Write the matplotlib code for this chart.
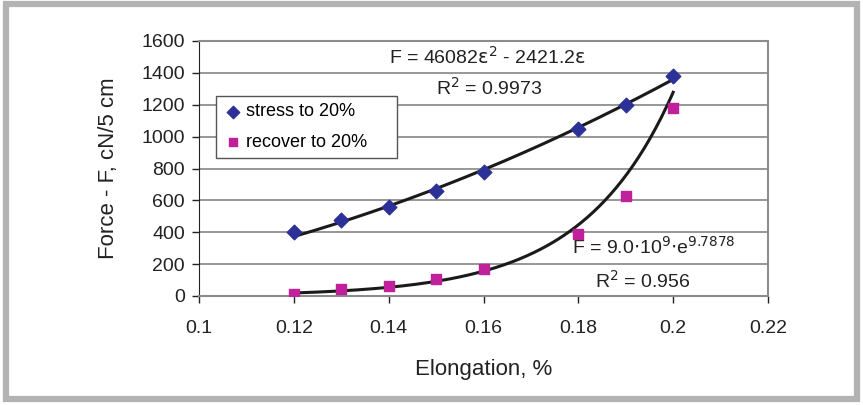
import numpy as np
import matplotlib.pyplot as plt
from matplotlib.patches import Rectangle

plt.rcParams['font.family'] = ['Liberation Sans', 'DejaVu Sans']

# datos
elongacion = [0.12, 0.13, 0.14, 0.15, 0.16, 0.18, 0.19, 0.20]
stress = [401, 477, 558, 660, 775, 1045, 1198, 1380]
recover = [10, 42, 60, 108, 172, 387, 625, 1180]

# coeficientes de las lineas de tendencia
poli_a, poli_b = 46082.0, -2421.2      # F = a*e^2 + b*e
exp_a, exp_k = 0.0345, 52.6            # curva exponencial dibujada

fig = plt.figure(figsize=(8.63, 4.05), dpi=100)
ax = fig.add_axes([199 / 863, 1 - 296 / 405, 569 / 863, 255 / 405])

# marco gris alrededor de toda la figura
fig.patches.append(Rectangle((6 / 863, 6 / 405), 851 / 863, 395 / 405,
                             transform=fig.transFigure, fill=False,
                             edgecolor='#b3b3b3', linewidth=4.5))

ax.set_xlim(0.1, 0.22)
ax.set_ylim(0, 1600)
ax.set_xticks(np.arange(0.1, 0.2201, 0.02))
ax.set_xticklabels(['0.1', '0.12', '0.14', '0.16', '0.18', '0.2', '0.22'])
ax.set_yticks(range(0, 1601, 200))
ax.yaxis.grid(True, color='#7a7a7a', linewidth=1.1)
ax.set_axisbelow(True)
ax.tick_params(labelsize=14, colors='#222222', length=5, width=1,
               direction='out', pad=5)
ax.tick_params(axis='x', pad=12)

for lado in ['top', 'right']:
    ax.spines[lado].set_color('#8c8c8c')
    ax.spines[lado].set_linewidth(1.5)
ax.spines['left'].set_color('#222222')
ax.spines['bottom'].set_color('#8c8c8c')
ax.spines['bottom'].set_linewidth(1.5)

# lineas de tendencia
xs = np.linspace(0.12, 0.20, 200)
ax.plot(xs, poli_a * xs ** 2 + poli_b * xs, color='#1a1a1a', linewidth=2.2, zorder=3)
ax.plot(xs, exp_a * np.exp(exp_k * xs), color='#1a1a1a', linewidth=2.2, zorder=3)

ax.scatter(elongacion, stress, marker='D', s=55, color='#2b3196', zorder=4,
           label='stress to 20%')
ax.scatter(elongacion, recover, marker='s', s=55, color='#c0209a', zorder=4,
           label='recover to 20%')

# caja de la leyenda (estilo Excel, con margen derecho amplio)
caja = Rectangle((17 / 569, 138 / 255), 181 / 569, 62 / 255, transform=ax.transAxes,
                 facecolor='white', edgecolor='#555555', linewidth=1.0, zorder=5)
ax.add_patch(caja)
leg = ax.legend(loc='upper left', bbox_to_anchor=(20 / 569, 1 - 57 / 255),
                fontsize=13, frameon=False, handletextpad=0.2,
                borderpad=0.3, labelspacing=0.75, handlelength=1.0,
                markerscale=0.85, borderaxespad=0)
leg.set_zorder(6)

ax.text(0.1607, 1500, r'F = 46082$\mathrm{\varepsilon}^2$ - 2421.2$\mathrm{\varepsilon}$',
        fontsize=14, color='#222222', ha='center', va='center')
ax.text(0.1613, 1305, r'R$^2$ = 0.9973', fontsize=14, color='#222222',
        ha='center', va='center')
ax.text(0.1787, 310, r'F = 9.0$\cdot$10$^9$$\cdot$e$^{9.7878}$', fontsize=14,
        color='#222222', ha='left', va='center')
ax.text(0.1936, 94, r'R$^2$ = 0.956', fontsize=14, color='#222222',
        ha='center', va='center')

ax.set_xlabel('Elongation, %', fontsize=16, color='#222222', labelpad=16)
ax.set_ylabel('Force - F, cN/5 cm', fontsize=16, color='#222222', labelpad=16)

fig.savefig('out.png', dpi=100)
